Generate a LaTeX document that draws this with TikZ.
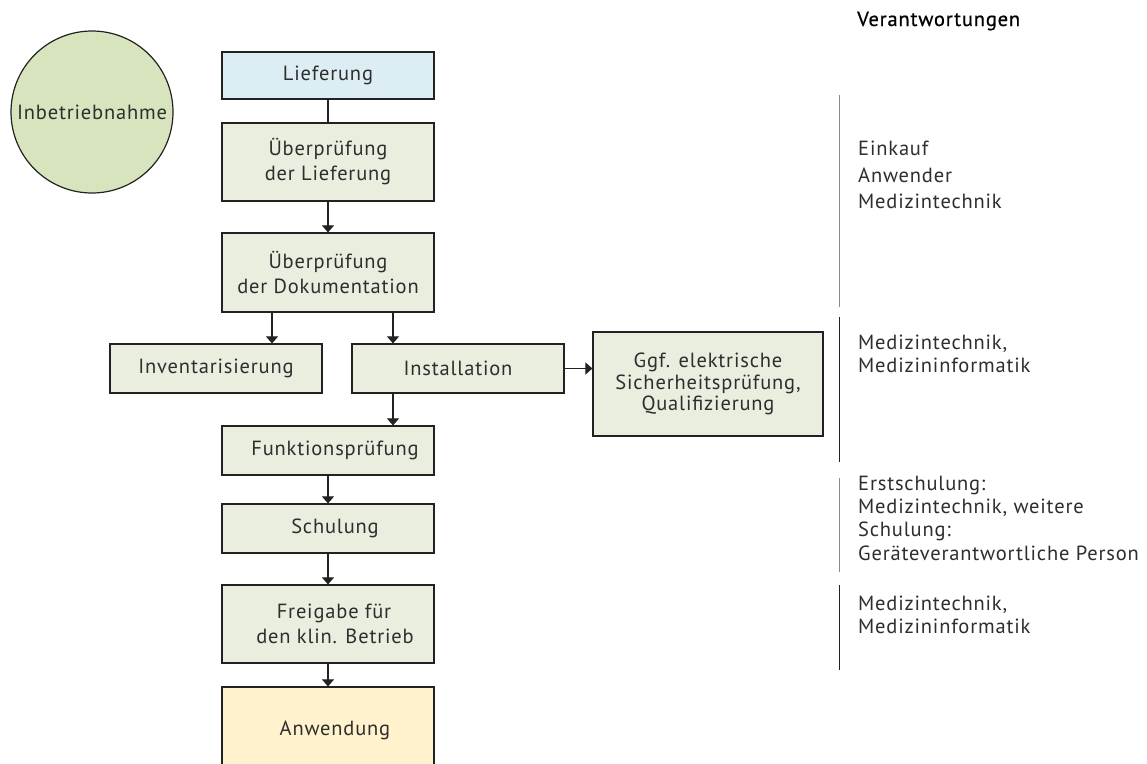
\documentclass[tikz,border=0pt]{standalone}
\usepackage{fontspec}
\setmainfont[LetterSpace=4]{PT Sans}
\newfontfamily\medfont[FakeBold=0.6,LetterSpace=4]{PT Sans}
\usetikzlibrary{arrows.meta}
\definecolor{boxgreen}{HTML}{E9EEDF}
\definecolor{circgreen}{HTML}{D8E4BD}
\definecolor{boxblue}{HTML}{DDEDF4}
\definecolor{boxyellow}{HTML}{FFF2CC}
\definecolor{txt}{HTML}{2E2E2E}
\definecolor{edge}{HTML}{222222}
\definecolor{lgray}{HTML}{8A8A8A}
\tikzset{
  flowbox/.style={draw=edge, line width=1.2pt, fill=boxgreen, minimum width=212pt,
    inner sep=0pt, align=center, text=txt, font=\fontsize{20.5}{25}\selectfont},
  conn/.style={draw=edge, line width=1.1pt, -{Triangle[width=12pt,length=7pt]}},
  plainconn/.style={draw=edge, line width=1.1pt},
  resp/.style={anchor=west, align=left, inner sep=0pt, text=txt, font=\fontsize{20.5}{23.3}\selectfont},
  sep/.style={line width=1pt}
}
\begin{document}
\begin{tikzpicture}[x=1pt,y=-1pt]
\clip (0,0) rectangle (1147,763);
\fill[white] (0,0) rectangle (1147,763);

\node[circle, draw=edge, line width=1.2pt, fill=circgreen, minimum size=162pt, inner sep=0pt,
  text=txt, font=\fontsize{20.5}{24}\selectfont] (ib) at (92,112) {Inbetriebnahme};

\node[flowbox, fill=boxblue, minimum height=47pt] (lief) at (328,75.5) {Lieferung};
\node[flowbox, minimum height=78pt] (uel) at (328,162) {Überprüfung\\der Lieferung};
\node[flowbox, minimum height=79pt] (ued) at (328,272.5) {Überprüfung\\der Dokumentation};
\node[flowbox, minimum height=49pt] (inv) at (216,368.5) {Inventarisierung};
\node[flowbox, minimum height=49pt] (inst) at (458,368.5) {Installation};
\node[flowbox, minimum width=230pt, minimum height=104pt, font=\fontsize{20.5}{21.5}\selectfont] (ggf) at (708,384)
  {Ggf. elektrische\\Sicherheitsprüfung,\\Qualifizierung};
\node[flowbox, minimum height=49pt] (funk) at (328,450.5) {\hspace*{14pt}Funktionsprüfung};
\node[flowbox, minimum height=49pt] (sch) at (328,528.5) {\hspace*{14pt}Schulung};
\node[flowbox, minimum height=78pt] (frei) at (328,624) {\hspace*{12pt}Freigabe für\\\hspace*{14pt}den klin. Betrieb};
\node[flowbox, fill=boxyellow, minimum height=86pt] (anw) at (328,730) {\hspace*{14pt}Anwendung};

\draw[plainconn] (lief.south) -- (uel.north);
\draw[conn] (uel.south) -- (ued.north);
\draw[conn] ([xshift=-56pt]ued.south) -- ([xshift=56pt]inv.north);
\draw[conn] ([xshift=65pt]ued.south) -- ([xshift=-65pt]inst.north);
\draw[conn] (inst.east) -- (inst.east -| ggf.west);
\draw[conn] ([xshift=-65pt]inst.south) -- ([xshift=65pt]funk.north);
\draw[conn] (funk.south) -- (sch.north);
\draw[conn] (sch.south) -- (frei.north);
\draw[conn] (frei.south) -- (anw.north);

\node[anchor=west, inner sep=0pt, text=black, font=\fontsize{20.5}{24}\medfont] (head) at (857,21) {Verantwortungen};

\draw[sep, draw=lgray] (839,95) -- (839,307);
\draw[sep, draw=edge] (839,317) -- (839,462);
\draw[sep, draw=lgray] (839,478) -- (839,572);
\draw[sep, draw=edge] (839,585) -- (839,670);

\node[resp, font=\fontsize{20.5}{26.5}\selectfont] (r1) at (858,175) {Einkauf\\Anwender\\Medizintechnik};
\node[resp] (r2) at (858,354) {Medizintechnik,\\Medizininformatik};
\node[resp] (r3) at (858,518) {Erstschulung:\\Medizintechnik, weitere\\Schulung:\\Geräteverantwortliche Person};
\node[resp] (r4) at (858,615) {Medizintechnik,\\Medizininformatik};
\end{tikzpicture}
\end{document}
